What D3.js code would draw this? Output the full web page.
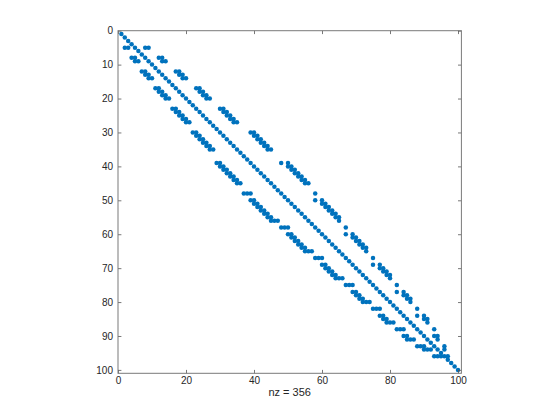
<!DOCTYPE html>
<html>
<head>
<meta charset="utf-8">
<script src="https://cdn.jsdelivr.net/npm/d3@7"></script>
<style>
body { margin: 0; background: #fff; }
svg text { font-family: "Liberation Sans", Arial, sans-serif; fill: #262626; }
</style>
</head>
<body>
<div id="chart"></div>
<script>
let width = 560;
let height = 420;

// matrix size and label
let nRows = 100;
let nzLabel = "nz = 356";
let xTicks = [0, 20, 40, 60, 80, 100];
let yTicks = [0, 10, 20, 30, 40, 50, 60, 70, 80, 90, 100];

// rows that have off-diagonal entries, and the columns of those entries
let offRows = [5, 8, 9, 12, 13, 14, 17, 18, 19, 20, 23, 24, 25, 26, 27,
    30, 31, 32, 33, 34, 35, 39, 40, 41, 42, 43, 44, 45,
    48, 50, 51, 52, 53, 54, 55, 56, 58, 60, 61, 62, 63, 64, 65,
    67, 69, 70, 71, 72, 73, 75, 77, 78, 79, 80, 82, 84, 85, 86,
    88, 90, 91, 93, 94, 96];
let offCols = [
    [2, 3, 8, 9],
    [4, 5, 12, 13], [5, 6, 13, 14],
    [7, 8, 17, 18], [8, 9, 18, 19], [9, 10, 19, 20],
    [11, 12, 23, 24], [12, 13, 24, 25], [13, 14, 25, 26], [14, 15, 26, 27],
    [16, 17, 30, 31], [17, 18, 31, 32], [18, 19, 32, 33], [19, 20, 33, 34], [20, 21, 34, 35],
    [22, 23, 39, 40], [23, 24, 40, 41], [24, 25, 41, 42], [25, 26, 42, 43], [26, 27, 43, 44], [27, 28, 44, 45],
    [29, 30, 48, 50], [30, 31, 50, 51], [31, 32, 51, 52], [32, 33, 52, 53], [33, 34, 53, 54], [34, 35, 54, 55], [35, 36, 55, 56],
    [37, 38, 39, 58], [39, 40, 58, 60], [40, 41, 60, 61], [41, 42, 61, 62], [42, 43, 62, 63], [43, 44, 63, 64], [44, 45, 64, 65], [45, 46, 47, 65],
    [48, 49, 50, 67], [50, 51, 67, 69], [51, 52, 69, 70], [52, 53, 70, 71], [53, 54, 71, 72], [54, 55, 72, 73], [55, 56, 57, 73],
    [58, 59, 60, 75], [60, 61, 75, 77], [61, 62, 77, 78], [62, 63, 78, 79], [63, 64, 79, 80], [64, 65, 66, 80],
    [67, 68, 69, 82], [69, 70, 82, 84], [70, 71, 84, 85], [71, 72, 85, 86], [72, 73, 74, 86],
    [75, 76, 77, 88], [77, 78, 88, 90], [78, 79, 90, 91], [79, 80, 81, 91],
    [82, 83, 84, 93], [84, 85, 93, 94], [85, 86, 87, 94],
    [88, 89, 90, 96], [90, 91, 92, 96],
    [93, 94, 95, 97]
];

let axLeft = 118, axRight = 461.4, axTop = 30.7, axBottom = 373.3;

let svg = d3.select("#chart").append("svg")
    .attr("width", width).attr("height", height);

let xScale = d3.scaleLinear().domain([0, nRows + 1]).range([axLeft, axRight]);
let yScale = d3.scaleLinear().domain([0, nRows + 1]).range([axTop, axBottom]);

// all nonzeros: diagonal plus listed off-diagonal entries
let points = d3.range(1, nRows + 1).map(i => ({ r: i, c: i }));
offRows.forEach((r, k) => offCols[k].forEach(c => points.push({ r: r, c: c })));

svg.append("g").selectAll("circle").data(points)
    .join("circle")
    .attr("cx", d => xScale(d.c))
    .attr("cy", d => yScale(d.r))
    .attr("r", 2.25)
    .attr("fill", "#0072BD");

// axes, ticks pointing inward
let tk = 3.4;
let xBottomAxis = svg.append("g").attr("transform", `translate(0,${axBottom})`)
    .call(d3.axisBottom(xScale).tickValues(xTicks).tickSizeInner(-tk).tickSizeOuter(0).tickPadding(4));
let xTopAxis = svg.append("g").attr("transform", `translate(0,${axTop})`)
    .call(d3.axisTop(xScale).tickValues(xTicks).tickSizeInner(-tk).tickSizeOuter(0).tickFormat(""));
let yLeftAxis = svg.append("g").attr("transform", `translate(${axLeft},0)`)
    .call(d3.axisLeft(yScale).tickValues(yTicks).tickSizeInner(-tk).tickSizeOuter(0).tickPadding(5));
let yRightAxis = svg.append("g").attr("transform", `translate(${axRight},0)`)
    .call(d3.axisRight(yScale).tickValues(yTicks).tickSizeInner(-tk).tickSizeOuter(0).tickFormat(""));

[xBottomAxis, xTopAxis, yLeftAxis, yRightAxis].forEach(g => {
    g.select(".domain").remove();
    g.selectAll("line").attr("stroke", "#555").attr("stroke-width", 0.8);
    g.selectAll("text").attr("font-size", 10).attr("fill", "#262626")
        .attr("font-family", "'Liberation Sans', Arial, sans-serif");
});

svg.append("rect")
    .attr("x", axLeft).attr("y", axTop)
    .attr("width", axRight - axLeft).attr("height", axBottom - axTop)
    .attr("fill", "none").attr("stroke", "#7a7a7a").attr("stroke-width", 1);

svg.append("text")
    .attr("x", (axLeft + axRight) / 2).attr("y", 396)
    .attr("text-anchor", "middle")
    .attr("font-size", 11)
    .text(nzLabel);
</script>
</body>
</html>
